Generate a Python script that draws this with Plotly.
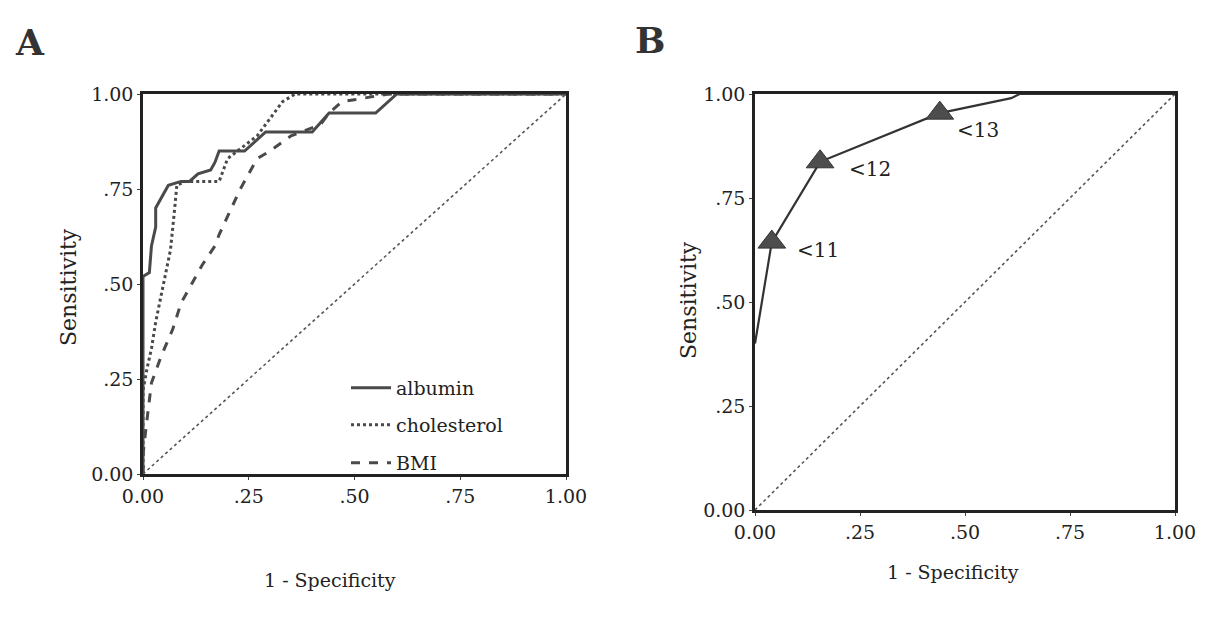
import plotly.graph_objects as go

# ---- Panel A data (1 - specificity, sensitivity) ----
albumin_x = [0, 0, 0.015, 0.02, 0.03, 0.03, 0.05, 0.06, 0.09, 0.11, 0.13, 0.16, 0.17, 0.18, 0.24, 0.29, 0.40, 0.44, 0.55, 0.60, 1.0]
albumin_y = [0, 0.52, 0.53, 0.60, 0.65, 0.70, 0.74, 0.76, 0.77, 0.77, 0.79, 0.80, 0.82, 0.85, 0.85, 0.90, 0.90, 0.95, 0.95, 1.0, 1.0]

chol_x = [0, 0.0, 0.01, 0.02, 0.03, 0.045, 0.065, 0.075, 0.08, 0.10, 0.14, 0.18, 0.20, 0.27, 0.33, 0.36, 1.0]
chol_y = [0, 0.22, 0.28, 0.33, 0.40, 0.48, 0.59, 0.70, 0.76, 0.77, 0.77, 0.77, 0.83, 0.89, 0.98, 1.0, 1.0]

bmi_x = [0, 0.0, 0.007, 0.02, 0.043, 0.07, 0.09, 0.105, 0.14, 0.17, 0.18, 0.23, 0.27, 0.30, 0.35, 0.375, 0.42, 0.44, 0.47, 0.50, 0.58, 1.0]
bmi_y = [0, 0.05, 0.12, 0.24, 0.31, 0.38, 0.45, 0.48, 0.55, 0.60, 0.63, 0.75, 0.83, 0.85, 0.89, 0.90, 0.92, 0.95, 0.98, 0.985, 1.0, 1.0]

# ---- Panel B data ----
b_line_x = [0, 0.04, 0.155, 0.44, 0.61, 0.63, 1.0]
b_line_y = [0.40, 0.644, 0.837, 0.954, 0.99, 1.0, 1.0]
cut_x = [0.04, 0.155, 0.44]
cut_y = [0.644, 0.837, 0.954]
cut_labels = ["<11", "<12", "<13"]

diag = [0, 1]
tick_vals = [0, 0.25, 0.5, 0.75, 1.0]
tick_text = ["0.00", ".25", ".50", ".75", "1.00"]

FONT = "DejaVu Serif"
INK = "#4a4a4a"
TXT = "#222222"

# page has an 8px body margin; figure is sized to fit inside the window
OFF = 8
W, H = 1209 - 2 * OFF, 627 - 2 * OFF


def px(x):
    return (x - OFF) / W


def py(y):
    return 1 - (y - OFF) / H


fig = go.Figure()

fig.add_trace(go.Scatter(x=albumin_x, y=albumin_y, mode="lines", name="albumin", legend="legend",
                         line=dict(color=INK, width=3), xaxis="x", yaxis="y"))
fig.add_trace(go.Scatter(x=chol_x, y=chol_y, mode="lines", name="cholesterol", legend="legend2",
                         line=dict(color=INK, width=3, dash="dot"), xaxis="x", yaxis="y"))
fig.add_trace(go.Scatter(x=bmi_x, y=bmi_y, mode="lines", name="BMI", legend="legend3",
                         line=dict(color=INK, width=3, dash="dash"), xaxis="x", yaxis="y"))
fig.add_trace(go.Scatter(x=diag, y=diag, mode="lines", showlegend=False,
                         line=dict(color="#555555", width=1.6, dash="dot"), xaxis="x", yaxis="y"))

fig.add_trace(go.Scatter(x=diag, y=diag, mode="lines", showlegend=False,
                         line=dict(color="#555555", width=1.6, dash="dot"), xaxis="x2", yaxis="y2"))
fig.add_trace(go.Scatter(x=b_line_x, y=b_line_y, mode="lines", showlegend=False,
                         line=dict(color="#333333", width=2.2), xaxis="x2", yaxis="y2"))
fig.add_trace(go.Scatter(x=cut_x, y=cut_y, mode="markers", showlegend=False,
                         marker=dict(symbol="triangle-up", size=24, color="#4d4d4d",
                                     line=dict(color="#333333", width=1)),
                         xaxis="x2", yaxis="y2"))

label_dx = [23, 27, 15]
label_dy = [-8, -7, -17]
for lx, ly, lt, dx, dy in zip(cut_x, cut_y, cut_labels, label_dx, label_dy):
    fig.add_annotation(text=lt, x=lx, y=ly, xref="x2", yref="y2", xanchor="left", yanchor="middle",
                       xshift=dx, yshift=dy, showarrow=False,
                       font=dict(family=FONT, size=20, color=TXT))

axis_common = dict(range=[0, 1], tickvals=tick_vals, ticktext=tick_text, automargin=False,
                   showgrid=False, zeroline=False, showline=True, linecolor="#222222",
                   linewidth=2.5, mirror=True, ticks="outside", ticklen=3, tickwidth=1,
                   tickcolor="#444444", tickfont=dict(family=FONT, size=19, color=TXT))

leg_common = dict(xanchor="left", yanchor="middle", bgcolor="rgba(0,0,0,0)",
                  font=dict(family=FONT, size=19, color=TXT), itemwidth=40)

fig.update_layout(
    width=W, height=H,
    margin=dict(l=0, r=0, t=0, b=0),
    paper_bgcolor="white", plot_bgcolor="white",
    xaxis=dict(domain=[px(143), px(566)], anchor="y", **axis_common),
    yaxis=dict(domain=[py(474), py(94)], anchor="x", **axis_common),
    xaxis2=dict(domain=[px(755), px(1175)], anchor="y2", **axis_common),
    yaxis2=dict(domain=[py(510), py(94)], anchor="x2", **axis_common),
    legend=dict(x=px(346), y=py(388), **leg_common),
    legend2=dict(x=px(346), y=py(425), **leg_common),
    legend3=dict(x=px(346), y=py(463), **leg_common),
    showlegend=True,
)

for txt, ax, ay in [("<b>A</b>", 30, 42), ("<b>B</b>", 650, 40)]:
    fig.add_annotation(text=txt, x=px(ax), y=py(ay), xref="paper", yref="paper",
                       xanchor="center", yanchor="middle",
                       showarrow=False, font=dict(family=FONT, size=36, color="#333333"))

for ax, ay in [(68, 287), (688, 300)]:
    fig.add_annotation(text="Sensitivity", x=px(ax), y=py(ay), xref="paper", yref="paper",
                       xanchor="center", yanchor="middle", textangle=-90, showarrow=False,
                       font=dict(family=FONT, size=22, color=TXT))
for ax, ay in [(330, 580), (953, 572)]:
    fig.add_annotation(text="1 - Specificity", x=px(ax), y=py(ay), xref="paper", yref="paper",
                       xanchor="center", yanchor="middle", showarrow=False,
                       font=dict(family=FONT, size=19, color=TXT))

fig.write_html("out.html")
